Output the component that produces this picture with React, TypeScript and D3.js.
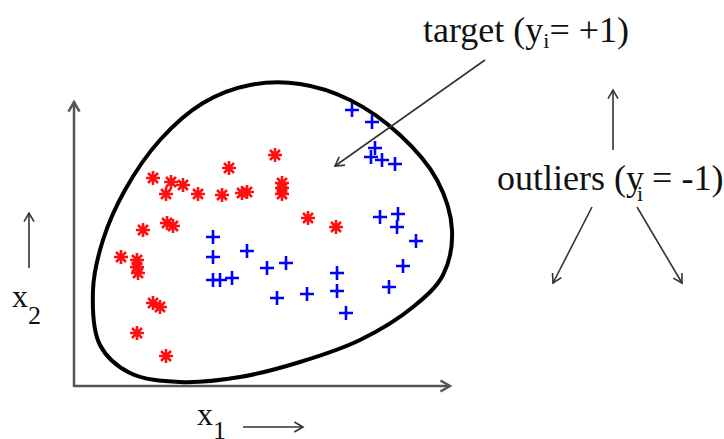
import * as d3 from 'd3'

// x1 / x2 values measured from the axes origin
const targetPts: [number, number][] = [
  [139, 149], [139, 129], [173, 135], [139, 106], [146, 106], [158, 108],
  [193, 118], [212, 123], [203, 88], [233, 92], [263, 113], [263, 95],
  [272, 73], [278, 276], [298, 264], [301, 238], [297, 229], [308, 226],
  [321, 222], [306, 169], [324, 172], [323, 159], [342, 145], [329, 120],
  [315, 99],
]
const outlierPts: [number, number][] = [
  [201, 231], [155, 218], [79, 208], [97, 204], [109, 201], [92, 192],
  [124, 192], [148, 191], [168, 193], [173, 194], [208, 203], [208, 198],
  [208, 192], [234, 168], [262, 159], [69, 156], [93, 163], [99, 160],
  [47, 129], [63, 126], [63, 119], [64, 113], [79, 83], [86, 79],
  [63, 53], [92, 30],
]
// boundary of the target class
const boundary: [number, number][] = [
  [19, 96], [29, 146], [51, 196], [86, 246], [129, 283], [176, 301],
  [226, 302], [276, 286], [326, 251], [363, 206], [378, 156], [369, 111],
  [339, 79], [286, 46], [226, 24], [166, 9], [106, 4], [56, 13], [26, 41],
]

const W = 724
const H = 439
const FONT = '"Liberation Serif", "Times New Roman", serif'

const x = d3.scaleLinear().domain([0, 376]).range([74, 450])
const y = d3.scaleLinear().domain([0, 284]).range([386, 102])

function arrowHead(x1: number, y1: number, x2: number, y2: number, len = 10) {
  const a = Math.atan2(y2 - y1, x2 - x1)
  const s = Math.PI / 6
  const p1 = [x2 - len * Math.cos(a - s), y2 - len * Math.sin(a - s)]
  const p2 = [x2 - len * Math.cos(a + s), y2 - len * Math.sin(a + s)]
  return `M${p1[0]},${p1[1]}L${x2},${y2}L${p2[0]},${p2[1]}`
}

function Arrow({ x1, y1, x2, y2, color = '#333', w = 1.6, len = 10 }: any) {
  return (
    <g stroke={color} strokeWidth={w} fill="none">
      <line x1={x1} y1={y1} x2={x2} y2={y2} />
      <path d={arrowHead(x1, y1, x2, y2, len)} />
    </g>
  )
}

export default function App() {
  const line = d3
    .line<[number, number]>()
    .x((d) => x(d[0]))
    .y((d) => y(d[1]))
    .curve(d3.curveCatmullRomClosed.alpha(0.5))

  const r = 7
  const k = r * 0.71
  const star = `M${-r},0H${r}M0,${-r}V${r}M${-k},${-k}L${k},${k}M${-k},${k}L${k},${-k}`
  const p = 7
  const plus = `M${-p},0H${p}M0,${-p}V${p}`

  return (
    <svg
      width={W}
      height={H}
      viewBox={`0 0 ${W} ${H}`}
      style={{ position: 'absolute', left: 0, top: 0, background: '#fff' }}
      fontFamily={FONT}
    >
      {/* axes */}
      <Arrow x1={x(0)} y1={y(0)} x2={x(376)} y2={y(0)} color="#555" w={2.5} len={11} />
      <Arrow x1={x(0)} y1={y(0) + 1} x2={x(0)} y2={y(284)} color="#555" w={2.5} len={11} />

      {/* boundary */}
      <path d={line(boundary) ?? ''} fill="none" stroke="#000" strokeWidth={4} />

      {/* outliers */}
      <g stroke="#ff1010" strokeWidth={2.6}>
        {outlierPts.map((d, i) => (
          <path key={i} d={star} transform={`translate(${x(d[0])},${y(d[1])})`} />
        ))}
      </g>
      {/* target */}
      <g stroke="#0000ff" strokeWidth={2.6}>
        {targetPts.map((d, i) => (
          <path key={i} d={plus} transform={`translate(${x(d[0])},${y(d[1])})`} />
        ))}
      </g>

      {/* annotations */}
      <text x={423} y={42} fontSize={36} fill="#111">
        target (y<tspan fontSize={22} dy={6}>i</tspan>
        <tspan dy={-6}>= +1)</tspan>
      </text>
      <Arrow x1={485} y1={60} x2={335} y2={166} />

      <Arrow x1={613} y1={150} x2={613} y2={90} />
      <text x={497} y={190} fontSize={36} fill="#111">
        outliers (y<tspan fontSize={22} dx={-7} dy={11}>i</tspan>
        <tspan dy={-11}> = -1)</tspan>
      </text>
      <Arrow x1={592} y1={207} x2={553} y2={283} />
      <Arrow x1={637} y1={207} x2={682} y2={283} />

      {/* axis labels */}
      <Arrow x1={29} y1={268} x2={29} y2={213} />
      <text x={12} y={307} fontSize={32} fill="#111">
        x<tspan fontSize={26} dy={17}>2</tspan>
      </text>
      <text x={197} y={425} fontSize={32} fill="#111">
        x<tspan fontSize={26} dy={14}>1</tspan>
      </text>
      <Arrow x1={243} y1={427} x2={303} y2={427} />
    </svg>
  )
}
